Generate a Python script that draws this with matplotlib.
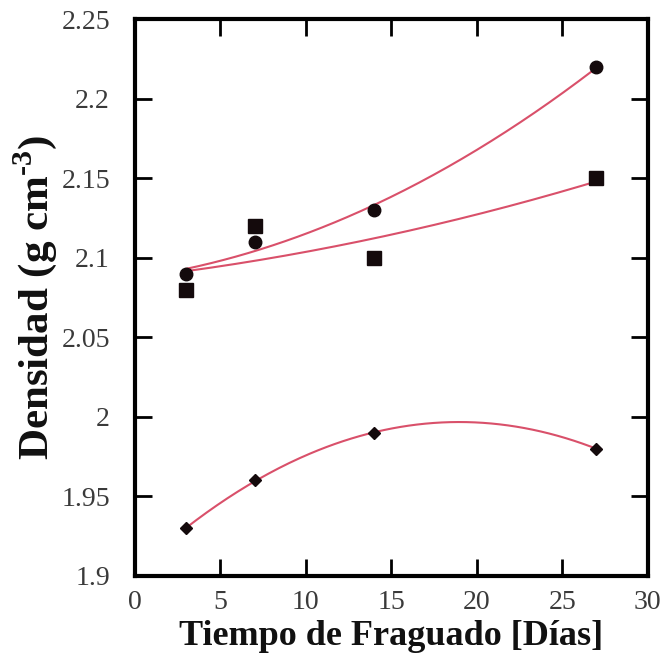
import numpy as np
import matplotlib
matplotlib.use("Agg")
from matplotlib import pyplot as plt

dias = [3, 7, 14, 27]
dens_circulo = [2.09, 2.11, 2.13, 2.22]
dens_cuadrado = [2.08, 2.12, 2.10, 2.15]
dens_rombo = [1.93, 1.96, 1.99, 1.98]

x_ticks = [0, 5, 10, 15, 20, 25, 30]
y_ticks = [1.9, 1.95, 2.0, 2.05, 2.1, 2.15, 2.2, 2.25]
y_labels = ["1.9", "1.95", "2", "2.05", "2.1", "2.15", "2.2", "2.25"]

plt.rcParams['font.family'] = ['Liberation Serif', 'DejaVu Serif']
plt.rcParams['mathtext.fontset'] = 'custom'
plt.rcParams['mathtext.rm'] = 'Liberation Serif:bold'
plt.rcParams['mathtext.bf'] = 'Liberation Serif:bold'

fig = plt.figure(figsize=(6.65, 6.62), dpi=100)
ax = fig.add_axes([0.203, 0.130, 0.771, 0.841])

line_color = '#d9506a'
mark_color = '#140a0c'
xs = np.linspace(dias[0], dias[-1], 200)

for ys, marker, ms in [(dens_circulo, 'o', 9), (dens_cuadrado, 's', 10), (dens_rombo, 'D', 6)]:
    coef = np.polyfit(dias, ys, 2)
    ax.plot(xs, np.polyval(coef, xs), color=line_color, lw=1.5, zorder=2)
    ax.plot(dias, ys, linestyle='none', marker=marker, ms=ms, color=mark_color, zorder=3)

ax.set_xlim(0, 30)
ax.set_ylim(1.9, 2.25)
ax.set_xticks(x_ticks)
ax.set_yticks(y_ticks)
ax.set_yticklabels(y_labels)
ax.tick_params(direction='in', length=12, width=2, top=True, right=True,
               labelsize=20, colors='black', labelcolor='#3a3a3a')
ax.tick_params(axis='y', pad=18)
ax.tick_params(axis='x', pad=10)
for s in ax.spines.values():
    s.set_linewidth(3)

ax.set_xlabel("Tiempo de Fraguado [Días]", fontsize=26, fontweight='bold',
              labelpad=4, color='#111111')
ax.set_ylabel("Densidad (g cm$^{\\text{-3}}$)", fontsize=31, fontweight='bold',
              labelpad=2, color='#111111')

fig.savefig("out.png", dpi=100)
